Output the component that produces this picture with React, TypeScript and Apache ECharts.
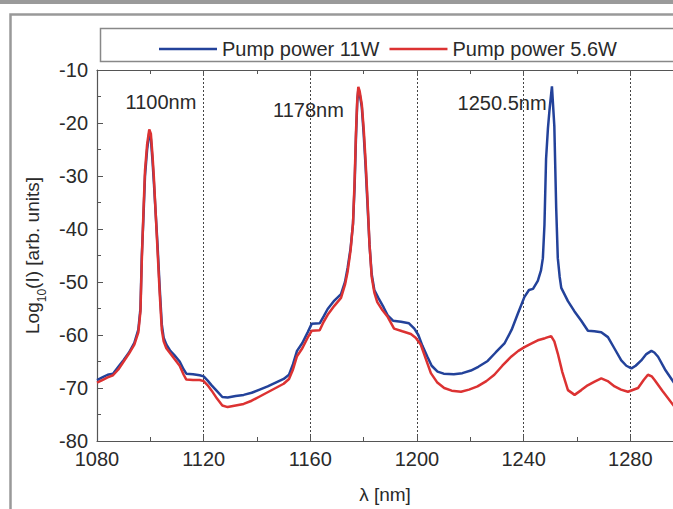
import React, { useEffect, useRef } from "react";
import * as echarts from "echarts";

const seriesNames = ["Pump power 11W", "Pump power 5.6W"];

const blueData: [number, number][] = [
  [1080, -68.5], [1082, -68], [1084, -67.5], [1086, -67.3], [1088, -66], [1090, -64.7], [1092, -63.3], [1094, -61.5],
  [1095.5, -59], [1096.3, -55], [1096.8, -45], [1097.4, -38], [1098, -30], [1098.8, -25], [1099.6, -21.8], [1100.2, -23],
  [1100.8, -27], [1101.3, -31], [1102, -37], [1102.7, -43], [1103.5, -51], [1104.3, -58], [1105, -60.5], [1106, -61.8],
  [1107.5, -63], [1109, -63.8], [1111, -65], [1112.5, -66.5], [1113.5, -67.3], [1116, -67.4], [1118.5, -67.6], [1120, -67.8],
  [1121.5, -68.6], [1123, -69.5], [1125, -70.6], [1127, -71.7], [1129, -71.8], [1132, -71.5], [1135, -71.3], [1138, -70.9],
  [1141, -70.3], [1144, -69.7], [1147, -69], [1150, -68.3], [1152, -67.5], [1153.5, -65.5], [1155, -63], [1157, -61.5],
  [1159, -59.5], [1160.5, -57.9], [1163.5, -57.8], [1165, -56.5], [1166.5, -55.1], [1169, -53.5], [1171.5, -52.3], [1173, -50],
  [1174, -47.3], [1175.1, -43.6], [1176, -39], [1176.6, -32], [1177.1, -23], [1177.6, -16], [1178, -13.7], [1178.5, -14.5],
  [1179.3, -17], [1180, -22], [1180.7, -28], [1181.4, -35], [1182.2, -43], [1183, -48.5], [1184, -51.5], [1185.5, -53],
  [1187.5, -54.8], [1189, -56.3], [1191, -57.3], [1194, -57.5], [1197, -57.8], [1199, -58.8], [1200.5, -60], [1202, -62],
  [1203.9, -64.1], [1205.5, -65.8], [1207.7, -66.9], [1210, -67.3], [1213.8, -67.4], [1217, -67.2], [1220.2, -66.7], [1223, -66],
  [1226.5, -64.9], [1229.5, -63.3], [1232.8, -61.6], [1235.5, -59], [1237.8, -56], [1240.3, -52.8], [1242, -51.5], [1243.5, -51.3],
  [1245.3, -49.8], [1246.5, -47.8], [1247.2, -45.5], [1247.8, -39.2], [1248.4, -26.8], [1249.1, -21], [1249.7, -17.5], [1250.6, -13.1],
  [1251.5, -20.6], [1252.2, -36.1], [1252.8, -45.5], [1253.5, -49], [1254.1, -51.1], [1256.6, -53.6], [1259, -55.5], [1261.6, -57.3],
  [1264.1, -59.2], [1266.5, -59.3], [1269.1, -59.5], [1271.6, -60.4], [1274, -62.5], [1276.6, -64.8], [1278.5, -65.8], [1280.4, -66.3],
  [1282, -65.8], [1284.1, -64.8], [1286, -63.6], [1287.9, -63], [1289, -63.3], [1290.4, -64.1], [1293, -66.5], [1296.5, -69.1],
];

const redData: [number, number][] = [
  [1080, -69], [1082, -68.5], [1084, -68], [1086, -67.6], [1088, -66.5], [1090, -65], [1092, -63.5], [1094, -61.8],
  [1095.5, -59.5], [1096.3, -55.5], [1096.8, -46], [1097.4, -37], [1098, -29], [1098.8, -24], [1099.6, -21.2], [1100.2, -22],
  [1100.8, -26], [1101.3, -30], [1102, -37], [1102.7, -44], [1103.5, -52], [1104.3, -59], [1105, -61.2], [1106, -62.5],
  [1107.5, -63.5], [1109, -64.5], [1111, -65.8], [1112.5, -67.5], [1113.5, -68.4], [1116, -68.5], [1118.5, -68.5], [1120, -68.7],
  [1121.5, -69.5], [1123, -70.5], [1125, -72], [1127, -73.3], [1129, -73.6], [1132, -73.3], [1135, -73], [1138, -72.4],
  [1141, -71.6], [1144, -70.8], [1147, -70], [1150, -69.2], [1152, -68.3], [1153.5, -66.5], [1155, -64], [1157, -62.5],
  [1159, -60.5], [1160.5, -59.2], [1163.5, -59.1], [1165, -57.5], [1166.5, -56.2], [1169, -54.5], [1171.5, -53], [1173, -50.5],
  [1174, -48], [1175.1, -44], [1176, -39], [1176.6, -31], [1177.1, -22], [1177.6, -15.5], [1178, -13.2], [1178.5, -14],
  [1179.3, -16.5], [1180, -21], [1180.7, -27], [1181.4, -34], [1182.2, -43], [1183, -49], [1184, -52], [1185.1, -53.8],
  [1187, -55.3], [1188.9, -56.5], [1191.4, -58.8], [1194.5, -59.3], [1197.7, -59.8], [1199.5, -60.5], [1201.4, -61.8], [1203.3, -64.5],
  [1205.2, -67.2], [1207.5, -68.9], [1210.2, -70], [1213, -70.5], [1216.5, -70.7], [1219.5, -70.3], [1222.7, -69.7], [1226, -68.7],
  [1229, -67.5], [1232, -65.8], [1235.3, -64.1], [1238, -63], [1240.3, -62.3], [1243, -61.6], [1245.3, -61], [1248, -60.6],
  [1250.3, -60.2], [1251.5, -61.2], [1252.8, -63.5], [1254.5, -67], [1256.6, -70.4], [1259.1, -71.3], [1261.6, -70.4], [1264, -69.5],
  [1266.6, -68.8], [1269.1, -68.2], [1271.5, -68.7], [1274.1, -69.7], [1276.5, -70.3], [1279.1, -70.7], [1282.9, -70], [1285, -68.5],
  [1286.6, -67.5], [1288, -67.8], [1289.1, -68.5], [1292, -70.5], [1296.5, -73.5],
];

const annotationLabels = ["1100nm", "1178nm", "1250.5nm"];
const annotationX = [1104, 1159.3, 1231.9];
const annotationY = [-16, -17.5, -16.2];

const X_MIN = 1080;
const X_MAX = 1296;
const X_INTERVAL = 40;
const Y_MIN = -80;
const Y_MAX = -10;
const Y_INTERVAL = 10;

const FONT = "Liberation Sans, Arial, sans-serif";
const TEXT_COLOR = "#2a2a2a";
const AXIS_COLOR = "#555";
const FS = 20;

export default function App() {
  const ref = useRef<HTMLDivElement>(null);

  useEffect(() => {
    if (!ref.current) return;
    const chart = echarts.init(ref.current, undefined, { renderer: "svg" });
    const axisCommon = {
      type: "value" as const,
      axisLine: { show: true, lineStyle: { color: AXIS_COLOR, width: 1.2 } },
      axisTick: { show: true, inside: true, length: 6, lineStyle: { color: AXIS_COLOR } },
      minorTick: { show: true, splitNumber: 2, length: 4, lineStyle: { color: AXIS_COLOR } },
    };
    chart.setOption({
      animation: false,
      backgroundColor: "#fff",
      textStyle: { fontFamily: FONT },
      graphic: [
        { type: "rect", shape: { x: 0, y: 0, width: 673, height: 4 }, style: { fill: "#9a9a9a" } },
        {
          type: "polyline",
          shape: { points: [[10.5, 509], [10.5, 14.5], [673, 14.5]] },
          style: { stroke: "#999", lineWidth: 2.5, fill: "none" },
        },
        {
          type: "rect",
          shape: { x: 100.5, y: 28.5, width: 600, height: 33 },
          style: { stroke: "#888", lineWidth: 1.5, fill: "none" },
        },
      ],
      legend: {
        left: 154,
        top: 34,
        icon: "rect",
        itemWidth: 58,
        itemHeight: 2.5,
        itemGap: 10,
        textStyle: { fontSize: FS, color: TEXT_COLOR, fontFamily: FONT },
        data: seriesNames,
      },
      grid: { left: 97, top: 70, right: 0, bottom: 64 },
      xAxis: [
        {
          ...axisCommon,
          min: X_MIN,
          max: X_MAX,
          interval: X_INTERVAL,
          position: "bottom",
          name: "λ [nm]",
          nameLocation: "middle",
          nameGap: 44,
          nameTextStyle: { fontSize: 19, color: TEXT_COLOR, fontFamily: FONT },
          axisLabel: {
            fontSize: FS,
            color: TEXT_COLOR,
            margin: 8,
            fontFamily: FONT,
            showMaxLabel: false,
            formatter: (v: number) => String(v),
          },
          splitLine: { show: true, lineStyle: { color: "#444", type: [2, 2], width: 1 } },
        },
        {
          ...axisCommon,
          min: X_MIN,
          max: X_MAX,
          interval: X_INTERVAL,
          position: "top",
          axisLabel: { show: false },
          splitLine: { show: false },
        },
      ],
      yAxis: [
        {
          ...axisCommon,
          min: Y_MIN,
          max: Y_MAX,
          interval: Y_INTERVAL,
          name: "Log{sub|10}(I) [arb. units]",
          nameLocation: "middle",
          nameGap: 52,
          nameRotate: 90,
          nameTextStyle: {
            fontSize: 19,
            color: TEXT_COLOR,
            fontFamily: FONT,
            rich: { sub: { fontSize: 12, verticalAlign: "bottom", padding: [0, 0, -6, 0], color: TEXT_COLOR, fontFamily: FONT } },
          },
          axisLabel: { fontSize: FS, color: TEXT_COLOR, margin: 9, fontFamily: FONT },
          splitLine: { show: false },
        },
      ],
      series: [
        {
          name: seriesNames[0],
          type: "line",
          data: blueData,
          symbol: "none",
          lineStyle: { color: "#23429a", width: 2.5 },
          itemStyle: { color: "#23429a" },
          z: 3,
          markPoint: {
            symbol: "circle",
            symbolSize: 1,
            itemStyle: { color: "rgba(0,0,0,0)" },
            label: {
              show: true,
              position: "inside",
              fontSize: FS,
              color: TEXT_COLOR,
              fontFamily: FONT,
              formatter: (p: any) => p.name,
            },
            data: annotationLabels.map((name, i) => ({ name, coord: [annotationX[i], annotationY[i]] })),
          },
        },
        {
          name: seriesNames[1],
          type: "line",
          data: redData,
          symbol: "none",
          lineStyle: { color: "#dc3232", width: 2.5 },
          itemStyle: { color: "#dc3232" },
          z: 4,
        },
      ],
    });
    return () => chart.dispose();
  }, []);

  return (
    <div
      ref={ref}
      style={{ position: "absolute", left: 0, top: 0, width: 673, height: 509, overflow: "hidden" }}
    />
  );
}
